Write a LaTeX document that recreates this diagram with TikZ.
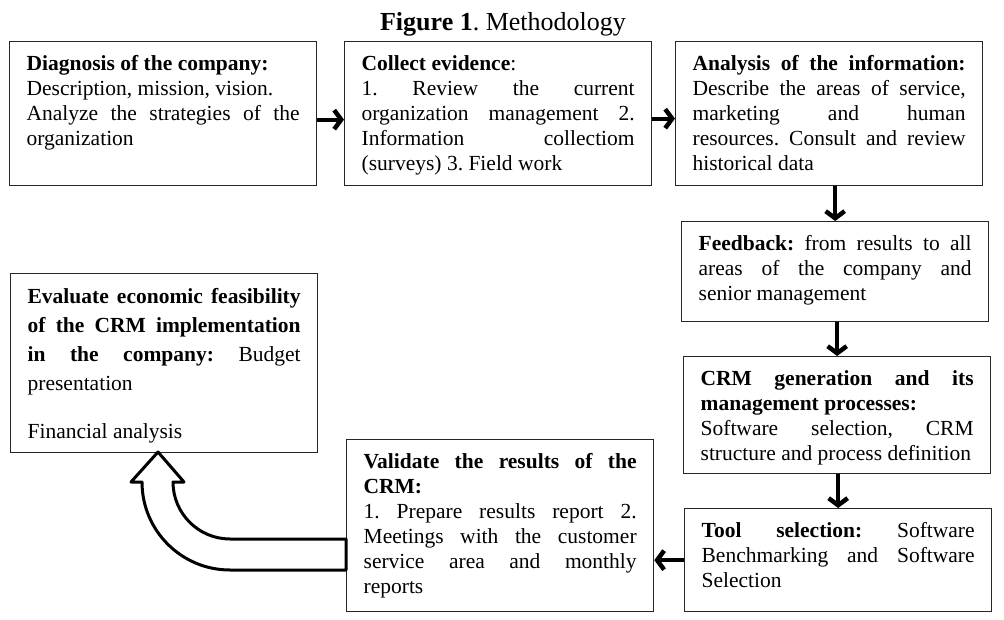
\documentclass[tikz,border=0pt]{standalone}
\usepackage{fontspec}
\setmainfont{Liberation Serif}
\usetikzlibrary{arrows.meta}
\frenchspacing
\tikzset{
  stepbox/.style={draw=black!85, line width=1.3pt, anchor=north west,
    text width=273pt, inner xsep=17pt, inner ysep=0pt, align=justify,
    text height=29pt, font=\fontsize{21.5}{25}\selectfont},
  flow/.style={line width=4pt, -{Straight Barb[length=7pt,width=19pt,line width=4.5pt]}}
}
\begin{document}
\begin{tikzpicture}[x=1pt,y=-1pt]
\useasboundingbox (0,0) rectangle (1004,620);
\node [anchor=base, font=\fontsize{26}{30}\selectfont] (title) at (503,31) {\textbf{Figure 1}. Methodology};
\node [stepbox, text depth=115pt] (diag) at (9,41) {\textbf{Diagnosis of the company:}\\ Description, mission, vision.\\ Analyze the strategies of the\linebreak organization};
\node [stepbox, text depth=115pt] (coll) at (344,41) {\textbf{Collect evidence}:\\ 1. Review the current\linebreak organization management 2.\linebreak Information collectiom\linebreak (surveys) 3. Field work};
\node [stepbox, text depth=115pt] (anal) at (675,41) {\textbf{Analysis of the information:}\linebreak Describe the areas of service,\linebreak marketing and human\linebreak resources. Consult and review\linebreak historical data};
\node [stepbox, text depth=71pt] (feed) at (681,221) {\textbf{Feedback:} from results to all\linebreak areas of the company and\linebreak senior management};
\node [stepbox, text depth=88pt] (crm) at (683,356) {\textbf{CRM generation and its\linebreak management processes:}\\ Software selection, CRM\linebreak structure and process definition};
\node [stepbox, text depth=74pt] (tool) at (684,508) {\textbf{Tool selection:} Software\linebreak Benchmarking and Software\linebreak Selection};
\node [stepbox, text depth=143pt] (val) at (346,439) {\textbf{Validate the results of the\linebreak CRM:}\\ 1. Prepare results report 2.\linebreak Meetings with the customer\linebreak service area and monthly\linebreak reports};
\node [stepbox, text height=30pt, text depth=149pt, font=\fontsize{21.5}{29}\selectfont] (eval) at (10,273) {\textbf{Evaluate economic feasibility\linebreak of the CRM implementation\linebreak in the company:} Budget\linebreak presentation\\[19pt] Financial analysis};
\draw [flow] ([yshift=-6pt]diag.east) -- ([yshift=-6pt]coll.west);
\draw [flow] ([yshift=-5pt]coll.east) -- ([yshift=-5pt]anal.west);
\draw [flow] (feed.north |- anal.south) -- (feed.north);
\draw [flow] (crm.north |- feed.south) -- (crm.north);
\draw [flow] (tool.north |- crm.south) -- (tool.north);
\draw [flow] (tool.west) -- (val.east |- tool.west);
\draw [line width=3pt, line join=round, fill=white] (val.west |- 0,539) -- (230,539)
  arc [start angle=90, end angle=180, radius=57] -- (184,482) -- (158,452) -- (131,482) -- (142,482)
  arc [start angle=180, end angle=90, radius=88] -- (val.west |- 0,570) -- cycle;
\end{tikzpicture}
\end{document}
